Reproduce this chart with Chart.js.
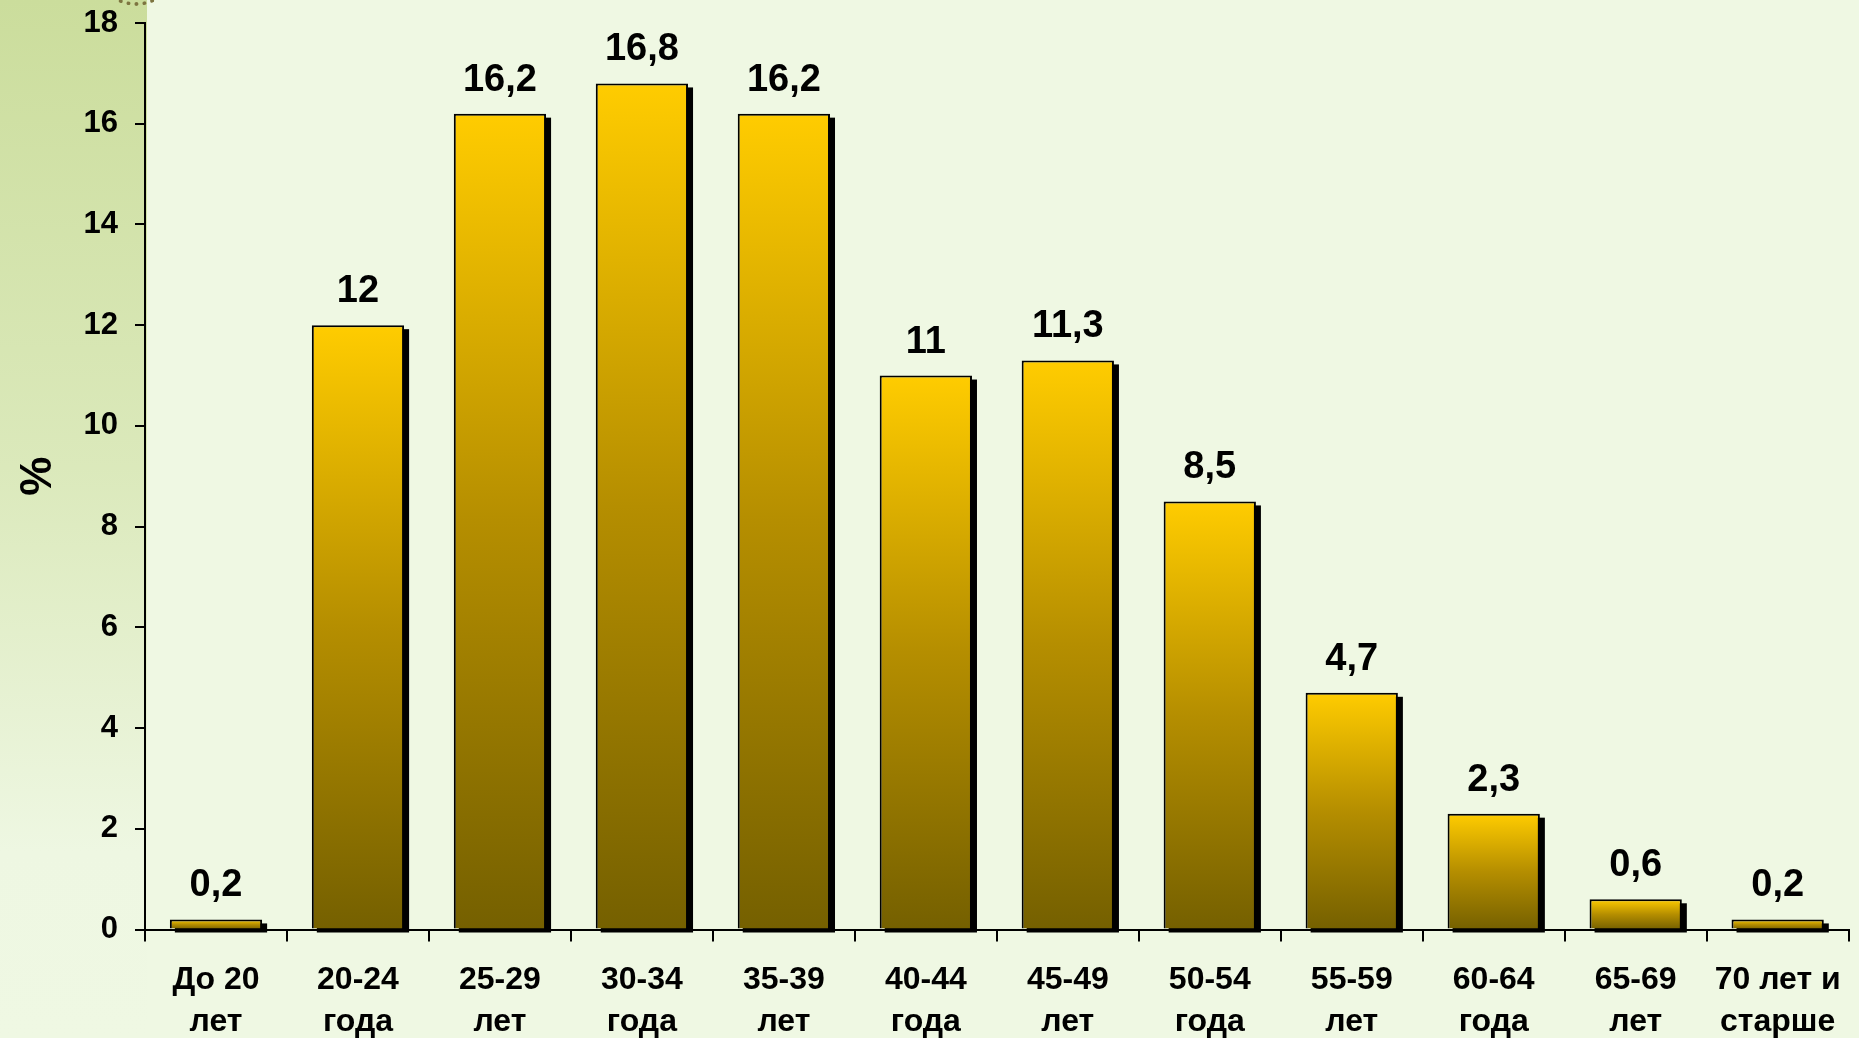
<!DOCTYPE html>
<html lang="ru">
<head>
<meta charset="utf-8">
<title>Распределение по возрасту, %</title>
<script src="https://cdn.jsdelivr.net/npm/chart.js@4/dist/chart.umd.min.js"></script>
<style>
  html, body { margin: 0; padding: 0; }
  body {
    width: 1859px; height: 1038px; overflow: hidden; position: relative;
    background: #eff8e3;
  }
  /* зелёная полоса слева */
  .strip {
    position: absolute; left: 0; top: 0; width: 147px; height: 1038px;
    background: linear-gradient(#cbdd9c 0%, #dbe9bb 45%, #eef7e2 82%, #eff8e3 100%);
  }
  .arc {
    position: absolute; left: 96px; top: -70px; width: 80px; height: 72px;
    border-radius: 50%; border-bottom: 4px dotted #7d7440;
  }
  #wrap { position: absolute; left: 0; top: 0; width: 1859px; height: 1038px; }
</style>
</head>
<body>
<div class="strip"></div>
<div class="arc"></div>
<div id="wrap"><canvas id="graphic"></canvas></div>
<script>
const groups = [
  ["До 20", "лет"], ["20-24", "года"], ["25-29", "лет"], ["30-34", "года"],
  ["35-39", "лет"], ["40-44", "года"], ["45-49", "лет"], ["50-54", "года"],
  ["55-59", "лет"], ["60-64", "года"], ["65-69", "лет"], ["70 лет и", "старше"]
]
const shares = [0.2, 12, 16.2, 16.8, 16.2, 11, 11.3, 8.5, 4.7, 2.3, 0.6, 0.2]
const yTicks = [0, 2, 4, 6, 8, 10, 12, 14, 16, 18]

const font = '"Liberation Sans", Arial, sans-serif'
const ctx = document.querySelector('#graphic').getContext('2d')

// градиент каждого столбика: жёлтый сверху, оливковый у основания
function barFill(c) {
  const chart = c.chart
  const y = chart.scales.y
  if (!chart.chartArea || !y) return '#ffcc00'
  const top = y.getPixelForValue(c.raw)
  const base = y.getPixelForValue(0)
  const g = chart.ctx.createLinearGradient(0, top, 0, base)
  g.addColorStop(0, '#ffcc00')
  g.addColorStop(0.5, '#b58e00')
  g.addColorStop(1, '#756000')
  return g
}

// чёрная тень справа снизу от столбиков
const barShadow = {
  id: 'barShadow',
  beforeDatasetsDraw(chart) {
    const c = chart.ctx
    const meta = chart.getDatasetMeta(0)
    c.save()
    c.fillStyle = '#000'
    meta.data.forEach((bar) => {
      const { x, y, base, width } = bar.getProps(['x', 'y', 'base', 'width'], true)
      c.fillRect(x - width / 2 + 5, y + 4, width, base - y)
    })
    c.restore()
  }
}

// подписи значений над столбиками
const valueLabels = {
  id: 'valueLabels',
  afterDatasetsDraw(chart) {
    const c = chart.ctx
    const meta = chart.getDatasetMeta(0)
    c.save()
    c.font = `bold 38px ${font}`
    c.fillStyle = '#000'
    c.textAlign = 'center'
    c.textBaseline = 'alphabetic'
    meta.data.forEach((bar, i) => {
      const txt = String(shares[i]).replace('.', ',')
      c.fillText(txt, bar.x, bar.y - 23)
    })
    c.restore()
  }
}

Chart.defaults.font.family = font
Chart.defaults.color = '#000'

new Chart(ctx, {
  type: 'bar',
  data: {
    labels: groups,
    datasets: [{
      data: shares,
      backgroundColor: barFill,
      borderColor: '#000',
      borderWidth: 2,
      borderSkipped: 'start',
      barPercentage: 0.65,
      categoryPercentage: 1,
      clip: false
    }]
  },
  options: {
    responsive: true,
    maintainAspectRatio: false,
    animation: false,
    events: [],
    layout: { padding: { top: 23, right: 8, left: 0, bottom: 0 } },
    plugins: {
      legend: { display: false },
      tooltip: { enabled: false }
    },
    scales: {
      x: {
        offset: true,
        grid: { display: true, drawOnChartArea: false, offset: true, color: '#000', lineWidth: 2, tickLength: 12 },
        border: { color: '#000', width: 2 },
        ticks: {
          color: '#000', maxRotation: 0, autoSkip: false, padding: 18,
          font: { family: font, size: 32, weight: 'bold', lineHeight: 1.3 }
        },
        afterFit(scale) { scale.height = 108.5 }
      },
      y: {
        min: 0,
        max: 18,
        afterBuildTicks(scale) { scale.ticks = yTicks.map(v => ({ value: v })) },
        grid: { display: true, drawOnChartArea: false, color: '#000', lineWidth: 2, tickLength: 10 },
        border: { color: '#000', width: 2 },
        ticks: {
          color: '#000', padding: 17,
          font: { family: font, size: 31, weight: 'bold' }
        },
        title: {
          display: true, text: '%', color: '#000',
          padding: { top: 12, bottom: 0 },
          font: { family: font, size: 44, weight: 'bold' }
        },
        afterFit(scale) {
          scale.width = 145
          scale.paddingTop = 0
        }
      }
    }
  },
  plugins: [barShadow, valueLabels]
})
</script>
</body>
</html>
